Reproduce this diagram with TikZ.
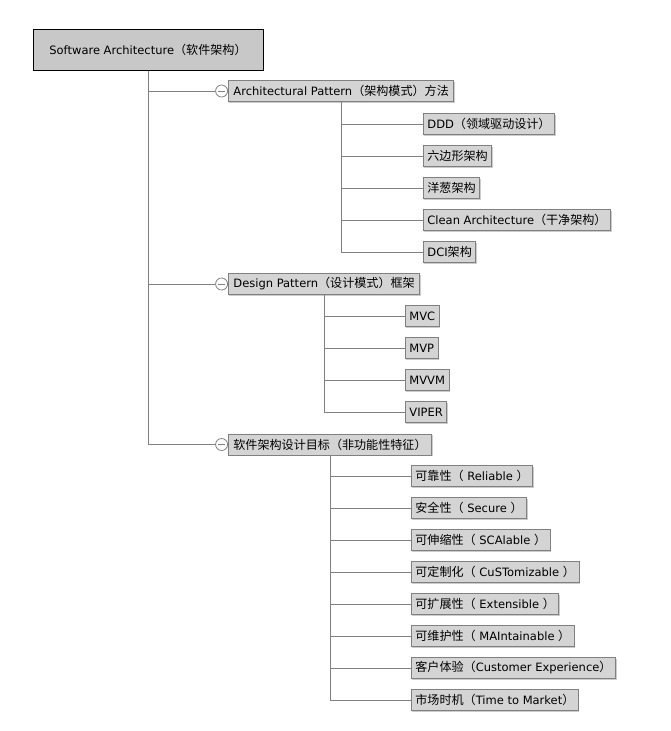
\documentclass[tikz,border=0pt]{standalone}
\usepackage{fontspec}
\setmainfont{DejaVu Sans}
\newfontfamily\cjkfont[Scale=1.05]{Noto Sans CJK SC}
\newcommand{\zh}[1]{{\cjkfont #1}}
\usetikzlibrary{shadows}
\definecolor{boxfill}{RGB}{212,212,212}
\definecolor{rootfill}{RGB}{200,200,200}
\definecolor{linegray}{RGB}{128,128,128}
\tikzset{x=1pt, y=-1pt,
 every node/.style={font=\fontsize{11.5}{13}\selectfont, inner sep=0pt},
 rootbox/.style={draw=black, fill=rootfill, line width=1pt, minimum width=230, minimum height=41},
 topic/.style={draw=linegray, fill=boxfill, line width=0.8pt, anchor=west, minimum height=21,
   inner xsep=5pt, drop shadow={shadow xshift=1pt, shadow yshift=-1pt, fill=black!20, opacity=1}},
 leaf/.style={topic, inner xsep=4pt},
 fold/.style={circle, draw=linegray, fill=white, line width=0.8pt, minimum size=12},
 branch/.style={draw=linegray, line width=0.9pt},
 }

\begin{document}
\begin{tikzpicture}
        \useasboundingbox (0,0) rectangle (671,731);
        % root
        \node[rootbox] (root) at (148, 49.5) {Software Architecture\zh{（软件架构）}};
        % first level
        \node[topic] (ap) at (228, 91) {Architectural Pattern\zh{（架构模式）方法}};
        \node[topic] (dp) at (228, 284) {Design Pattern\zh{（设计模式）框架}};
        \node[topic] (goal) at (228, 444.5) {\zh{软件架构设计目标（非功能性特征）}};
        \node[fold, anchor=east] (apc) at (ap.west) {};
        \node[fold, anchor=east] (dpc) at (dp.west) {};
        \node[fold, anchor=east] (goalc) at (goal.west) {};
        \foreach \c in {apc, dpc, goalc}
            \draw[linegray, line width=0.8pt] ([xshift=-3.2pt]\c.center) -- ([xshift=3.2pt]\c.center);
        \draw[branch] (root.south) |- (apc.west);
        \draw[branch] (root.south) |- (dpc.west);
        \draw[branch] (root.south) |- (goalc.west);
        % architectural patterns
        \node[leaf] (ddd) at (423, 124) {DDD\zh{（领域驱动设计）}};
        \node[leaf] (hex) at (423, 156) {\zh{六边形架构}};
        \node[leaf] (onion) at (423, 188) {\zh{洋葱架构}};
        \node[leaf] (clean) at (423, 220) {Clean Architecture\zh{（干净架构）}};
        \node[leaf] (dci) at (423, 252) {DCI\zh{架构}};
        \foreach \n in {ddd, hex, onion, clean, dci}
            \draw[branch] (ap.south) |- (\n.west);
        % design patterns
        \node[leaf] (mvc) at (405, 316) {MVC};
        \node[leaf] (mvp) at (405, 348) {MVP};
        \node[leaf] (mvvm) at (405, 380) {MVVM};
        \node[leaf] (viper) at (405, 412) {VIPER};
        \foreach \n in {mvc, mvp, mvvm, viper}
            \draw[branch] (dp.south) |- (\n.west);
        % design goals
        \node[leaf] (rel) at (411, 476) {\zh{可靠性（} Reliable \zh{）}};
        \node[leaf] (sec) at (411, 508) {\zh{安全性（} Secure \zh{）}};
        \node[leaf] (sca) at (411, 540) {\zh{可伸缩性（} SCAlable \zh{）}};
        \node[leaf] (cus) at (411, 572) {\zh{可定制化（} CuSTomizable \zh{）}};
        \node[leaf] (ext) at (411, 604) {\zh{可扩展性（} Extensible \zh{）}};
        \node[leaf] (mai) at (411, 636) {\zh{可维护性（} MAIntainable \zh{）}};
        \node[leaf] (cx) at (411, 668) {\zh{客户体验（}Customer Experience\zh{）}};
        \node[leaf] (ttm) at (411, 700) {\zh{市场时机（}Time to Market\zh{）}};
        \foreach \n in {rel, sec, sca, cus, ext, mai, cx, ttm}
            \draw[branch] (goal.south) |- (\n.west);
    \end{tikzpicture}
\end{document}
